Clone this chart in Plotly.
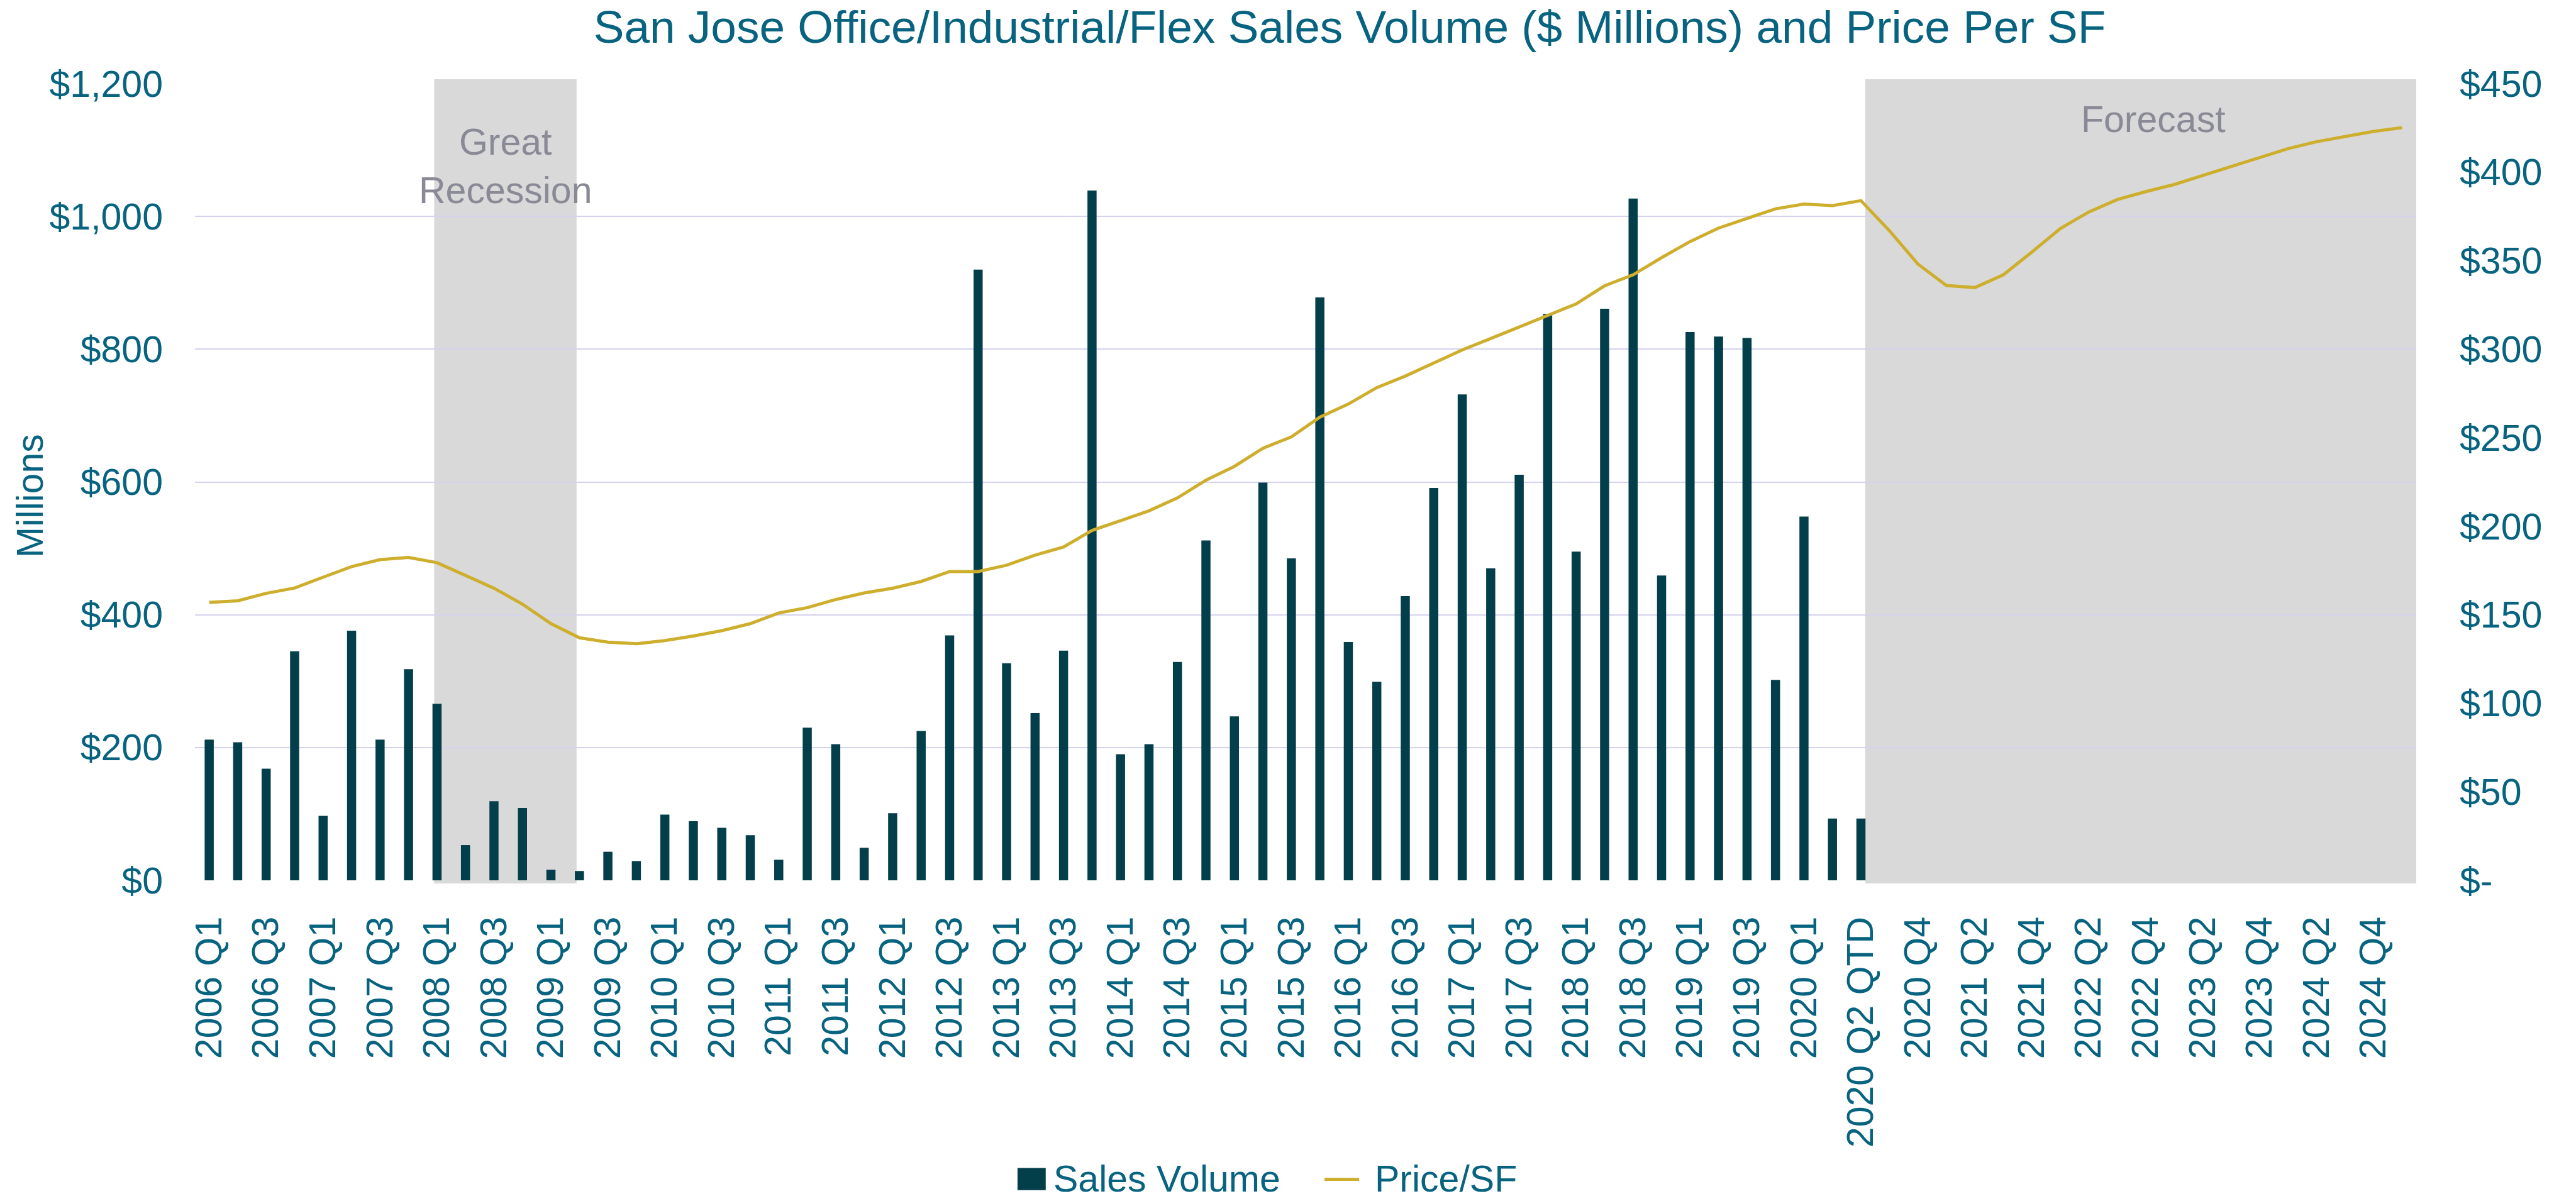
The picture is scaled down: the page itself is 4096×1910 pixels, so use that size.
import plotly.graph_objects as go

# ---------------- data ----------------
categories = [
    "2006 Q1", "2006 Q2", "2006 Q3", "2006 Q4",
    "2007 Q1", "2007 Q2", "2007 Q3", "2007 Q4",
    "2008 Q1", "2008 Q2", "2008 Q3", "2008 Q4",
    "2009 Q1", "2009 Q2", "2009 Q3", "2009 Q4",
    "2010 Q1", "2010 Q2", "2010 Q3", "2010 Q4",
    "2011 Q1", "2011 Q2", "2011 Q3", "2011 Q4",
    "2012 Q1", "2012 Q2", "2012 Q3", "2012 Q4",
    "2013 Q1", "2013 Q2", "2013 Q3", "2013 Q4",
    "2014 Q1", "2014 Q2", "2014 Q3", "2014 Q4",
    "2015 Q1", "2015 Q2", "2015 Q3", "2015 Q4",
    "2016 Q1", "2016 Q2", "2016 Q3", "2016 Q4",
    "2017 Q1", "2017 Q2", "2017 Q3", "2017 Q4",
    "2018 Q1", "2018 Q2", "2018 Q3", "2018 Q4",
    "2019 Q1", "2019 Q2", "2019 Q3", "2019 Q4",
    "2020 Q1", "2020 Q2", "2020 Q2 QTD", "2020 Q3", "2020 Q4",
    "2021 Q1", "2021 Q2", "2021 Q3", "2021 Q4",
    "2022 Q1", "2022 Q2", "2022 Q3", "2022 Q4",
    "2023 Q1", "2023 Q2", "2023 Q3", "2023 Q4",
    "2024 Q1", "2024 Q2", "2024 Q3", "2024 Q4",
    "2025 Q1",
]

sales_volume = [
    212, 208, 168, 345, 97, 376, 212, 318, 266, 53,
    119, 109, 16, 14, 43, 29, 99, 89, 79, 68,
    31, 230, 205, 49, 101, 225, 369, 920, 327, 252,
    346, 1039, 190, 205, 329, 512, 247, 599, 485, 878,
    359, 299, 428, 591, 732, 470, 611, 853, 495, 861,
    1027, 459, 826, 819, 817, 302, 548, 93, 93,
    None, None, None, None, None, None, None, None, None, None,
    None, None, None, None, None, None, None, None, None,
]

price_psf = [
    157.0, 157.9, 162.1, 165.1, 171.2, 177.2, 181.1, 182.4, 179.4, 172.2,
    165.0, 156.0, 145.0, 137.0, 134.5, 133.6, 135.4, 138.0, 141.0, 145.0,
    151.0, 154.0, 158.6, 162.3, 165.0, 168.8, 174.4, 174.4, 178.0, 183.7,
    188.3, 197.6, 203.0, 208.7, 216.0, 226.0, 233.8, 244.0, 250.5, 261.6,
    269.0, 278.3, 284.8, 292.0, 299.6, 306.0, 312.6, 319.0, 325.6, 335.8,
    342.0, 351.7, 360.8, 368.4, 373.9, 379.3, 382.0, 381.1, 383.9,
    366.9, 348.1, 336.0, 334.8, 342.0, 354.8, 368.1, 377.5, 384.5, 389.0,
    393.0, 398.1, 403.3, 408.1, 413.3, 417.2, 420.3, 423.0, 425.1,
]

x_tick_labels = categories[::2]

left_tickvals = [0, 200, 400, 600, 800, 1000, 1200]
left_ticktext = ["$0", "$200", "$400", "$600", "$800", "$1,000", "$1,200"]

right_tickvals = [0, 50, 100, 150, 200, 250, 300, 350, 400, 450]
right_ticktext = ["$-", "$50", "$100", "$150", "$200", "$250", "$300", "$350", "$400", "$450"]

recession_span = (7.9, 12.9)
forecast_span = (58.15, 77.5)

# ---------------- style ----------------
BAR = "#033E4B"
GOLD = "#CDAE2D"
TEXT = "#07637F"
GRID = "#D4D2EE"
SHADE = "#D9D9D9"
NOTE = "#8A8A96"
FONT = "Liberation Sans, Arial, sans-serif"
FS = 59

fig = go.Figure()

fig.add_trace(go.Bar(
    x=categories, y=sales_volume, name="Sales Volume",
    marker=dict(color=BAR, line=dict(width=0)), width=0.32, yaxis="y",
))
fig.add_trace(go.Scatter(
    x=categories, y=price_psf, name="Price/SF", mode="lines",
    line=dict(color=GOLD, width=5), yaxis="y2",
))

shapes = []
for (a, b) in (recession_span, forecast_span):
    shapes.append(dict(
        type="rect", xref="x", yref="paper", x0=a, x1=b, y0=-0.004, y1=1.0055,
        fillcolor=SHADE, line=dict(width=0), layer="below",
    ))

# custom legend
shapes.append(dict(type="rect", xref="paper", yref="paper",
                   x0=0.3703, x1=0.3830, y0=-0.3610, y1=-0.3890,
                   fillcolor=BAR, line=dict(width=0)))
shapes.append(dict(type="line", xref="paper", yref="paper",
                   x0=0.5085, x1=0.5241, y0=-0.3752, y1=-0.3752,
                   line=dict(color=GOLD, width=5)))

annotations = [
    dict(text="Great<br>Recession", xref="x", yref="paper", x=10.4, y=0.896,
         showarrow=False, font=dict(size=FS, color=NOTE, family=FONT),
         xanchor="center", yanchor="middle", align="center"),
    dict(text="Forecast", xref="x", yref="paper", x=68.27, y=0.955,
         showarrow=False, font=dict(size=FS, color=NOTE, family=FONT),
         xanchor="center", yanchor="middle"),
    dict(text="Millions", xref="paper", yref="paper", x=-0.0742, y=0.483,
         showarrow=False, textangle=-90, font=dict(size=FS, color=TEXT, family=FONT),
         xanchor="center", yanchor="middle"),
    dict(text="Sales Volume", xref="paper", yref="paper", x=0.3860, y=-0.3750,
         showarrow=False, font=dict(size=FS, color=TEXT, family=FONT),
         xanchor="left", yanchor="middle"),
    dict(text="Price/SF", xref="paper", yref="paper", x=0.5305, y=-0.3750,
         showarrow=False, font=dict(size=FS, color=TEXT, family=FONT),
         xanchor="left", yanchor="middle"),
]

fig.update_layout(
    width=4096, height=1910,
    margin=dict(l=310, r=254, t=133, b=510, autoexpand=False),
    paper_bgcolor="white", plot_bgcolor="white",
    showlegend=False,
    font=dict(family=FONT, color=TEXT, size=FS),
    title=dict(
        text="San Jose Office/Industrial/Flex Sales Volume ($ Millions) and Price Per SF",
        x=2146 / 4096, xanchor="center", xref="container",
        y=1 - 42 / 1910, yanchor="middle", yref="container",
        font=dict(size=73, color=TEXT, family=FONT),
    ),
    xaxis=dict(
        type="category", range=[-0.5, 77.5],
        tickmode="array", tickvals=x_tick_labels, ticktext=x_tick_labels,
        tickangle=-90, showgrid=False, showline=False, zeroline=False,
        ticks="", ticklabelstandoff=45,
        tickfont=dict(size=FS, color=TEXT, family=FONT),
    ),
    yaxis=dict(
        range=[0, 1200], tickmode="array", tickvals=left_tickvals, ticktext=left_ticktext,
        showgrid=True, gridcolor=GRID, gridwidth=2, zeroline=False, showline=False,
        ticks="", ticklabelstandoff=50,
        tickfont=dict(size=FS, color=TEXT, family=FONT),
    ),
    yaxis2=dict(
        range=[0, 450], overlaying="y", side="right",
        tickmode="array", tickvals=right_tickvals, ticktext=right_ticktext,
        showgrid=False, zeroline=False, showline=False,
        ticks="", ticklabelstandoff=68,
        tickfont=dict(size=FS, color=TEXT, family=FONT),
    ),
    shapes=shapes,
    annotations=annotations,
)

fig.write_html("out.html")
